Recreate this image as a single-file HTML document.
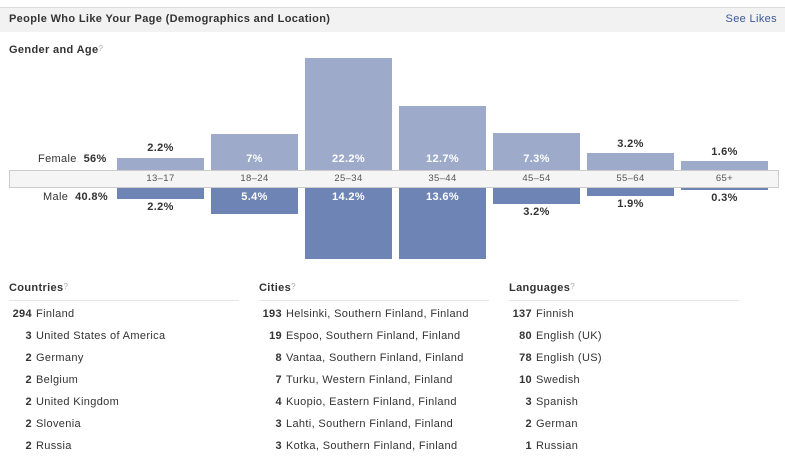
<!DOCTYPE html>
<html><head><style>
body{margin:0;width:785px;height:459px;background:#fff;font-family:"Liberation Sans",sans-serif;color:#333;position:relative;overflow:hidden;letter-spacing:0.35px}
.a{position:absolute}
.hdr{left:0;top:7px;width:785px;height:24px;background:#f2f2f2;border-top:1px solid #ddd}
.t{font-size:11px;font-weight:bold;color:#333}
.f{background:#9daac9}.m{background:#6d84b4}
.lb{font-size:11px;font-weight:bold;text-align:center;width:87px}
.w{color:#fff}
.ax{font-size:9.5px;color:#555;text-align:center;width:87px;top:173px}
.q{font-size:8px;color:#aaa;vertical-align:top;font-weight:normal}
.col{position:absolute;top:282px;width:230px;font-size:11px}
.col h4{margin:0;font-size:11px;font-weight:bold;height:18px;border-bottom:1px solid #e5e5e5}
.r{height:22px;line-height:22px;margin-top:0}
.r b{display:inline-block;width:23px;text-align:right;margin-right:4px}
.col .r:first-of-type{margin-top:2px}
</style></head><body>
<div class="a hdr"></div>
<div class="a t" style="left:9px;top:13px">People Who Like Your Page (Demographics and Location)</div>
<div class="a" style="right:8px;top:13px;font-size:11px;color:#3b5998">See Likes</div>
<div class="a t" style="left:9px;top:44px">Gender and Age<span class="q">?</span></div>
<div class="a" style="left:9px;top:170px;width:768px;height:16px;background:#f5f5f5;border:1px solid #ccc"></div>
<div class="a" style="left:38px;top:153px;font-size:11px">Female&nbsp;&nbsp;<b>56%</b></div>
<div class="a" style="left:43px;top:191px;font-size:11px">Male&nbsp;&nbsp;<b>40.8%</b></div>

<div class="a f" style="left:117px;top:158px;width:87px;height:12px"></div>
<div class="a f" style="left:211px;top:134px;width:87px;height:36px"></div>
<div class="a f" style="left:305px;top:58px;width:87px;height:112px"></div>
<div class="a f" style="left:399px;top:106px;width:87px;height:64px"></div>
<div class="a f" style="left:493px;top:133px;width:87px;height:37px"></div>
<div class="a f" style="left:587px;top:153px;width:87px;height:17px"></div>
<div class="a f" style="left:681px;top:161px;width:87px;height:9px"></div>

<div class="a m" style="left:117px;top:188px;width:87px;height:11px"></div>
<div class="a m" style="left:211px;top:188px;width:87px;height:26px"></div>
<div class="a m" style="left:305px;top:188px;width:87px;height:71px"></div>
<div class="a m" style="left:399px;top:188px;width:87px;height:71px"></div>
<div class="a m" style="left:493px;top:188px;width:87px;height:16px"></div>
<div class="a m" style="left:587px;top:188px;width:87px;height:8px"></div>
<div class="a m" style="left:681px;top:188px;width:87px;height:2px"></div>

<div class="a lb" style="left:117px;top:142px">2.2%</div>
<div class="a lb w" style="left:211px;top:153px">7%</div>
<div class="a lb w" style="left:305px;top:153px">22.2%</div>
<div class="a lb w" style="left:399px;top:153px">12.7%</div>
<div class="a lb w" style="left:493px;top:153px">7.3%</div>
<div class="a lb" style="left:587px;top:138px">3.2%</div>
<div class="a lb" style="left:681px;top:146px">1.6%</div>

<div class="a lb" style="left:117px;top:201px">2.2%</div>
<div class="a lb w" style="left:211px;top:191px">5.4%</div>
<div class="a lb w" style="left:305px;top:191px">14.2%</div>
<div class="a lb w" style="left:399px;top:191px">13.6%</div>
<div class="a lb" style="left:493px;top:206px">3.2%</div>
<div class="a lb" style="left:587px;top:198px">1.9%</div>
<div class="a lb" style="left:681px;top:192px">0.3%</div>

<div class="a ax" style="left:117px">13–17</div>
<div class="a ax" style="left:211px">18–24</div>
<div class="a ax" style="left:305px">25–34</div>
<div class="a ax" style="left:399px">35–44</div>
<div class="a ax" style="left:493px">45–54</div>
<div class="a ax" style="left:587px">55–64</div>
<div class="a ax" style="left:681px">65+</div>

<div class="col" style="left:9px"><h4>Countries<span class="q">?</span></h4>
<div class="r"><b>294</b>Finland</div><div class="r"><b>3</b>United States of America</div><div class="r"><b>2</b>Germany</div><div class="r"><b>2</b>Belgium</div><div class="r"><b>2</b>United Kingdom</div><div class="r"><b>2</b>Slovenia</div><div class="r"><b>2</b>Russia</div></div>
<div class="col" style="left:259px"><h4>Cities<span class="q">?</span></h4>
<div class="r"><b>193</b>Helsinki, Southern Finland, Finland</div><div class="r"><b>19</b>Espoo, Southern Finland, Finland</div><div class="r"><b>8</b>Vantaa, Southern Finland, Finland</div><div class="r"><b>7</b>Turku, Western Finland, Finland</div><div class="r"><b>4</b>Kuopio, Eastern Finland, Finland</div><div class="r"><b>3</b>Lahti, Southern Finland, Finland</div><div class="r"><b>3</b>Kotka, Southern Finland, Finland</div></div>
<div class="col" style="left:509px"><h4>Languages<span class="q">?</span></h4>
<div class="r"><b>137</b>Finnish</div><div class="r"><b>80</b>English (UK)</div><div class="r"><b>78</b>English (US)</div><div class="r"><b>10</b>Swedish</div><div class="r"><b>3</b>Spanish</div><div class="r"><b>2</b>German</div><div class="r"><b>1</b>Russian</div></div>
</body></html>
